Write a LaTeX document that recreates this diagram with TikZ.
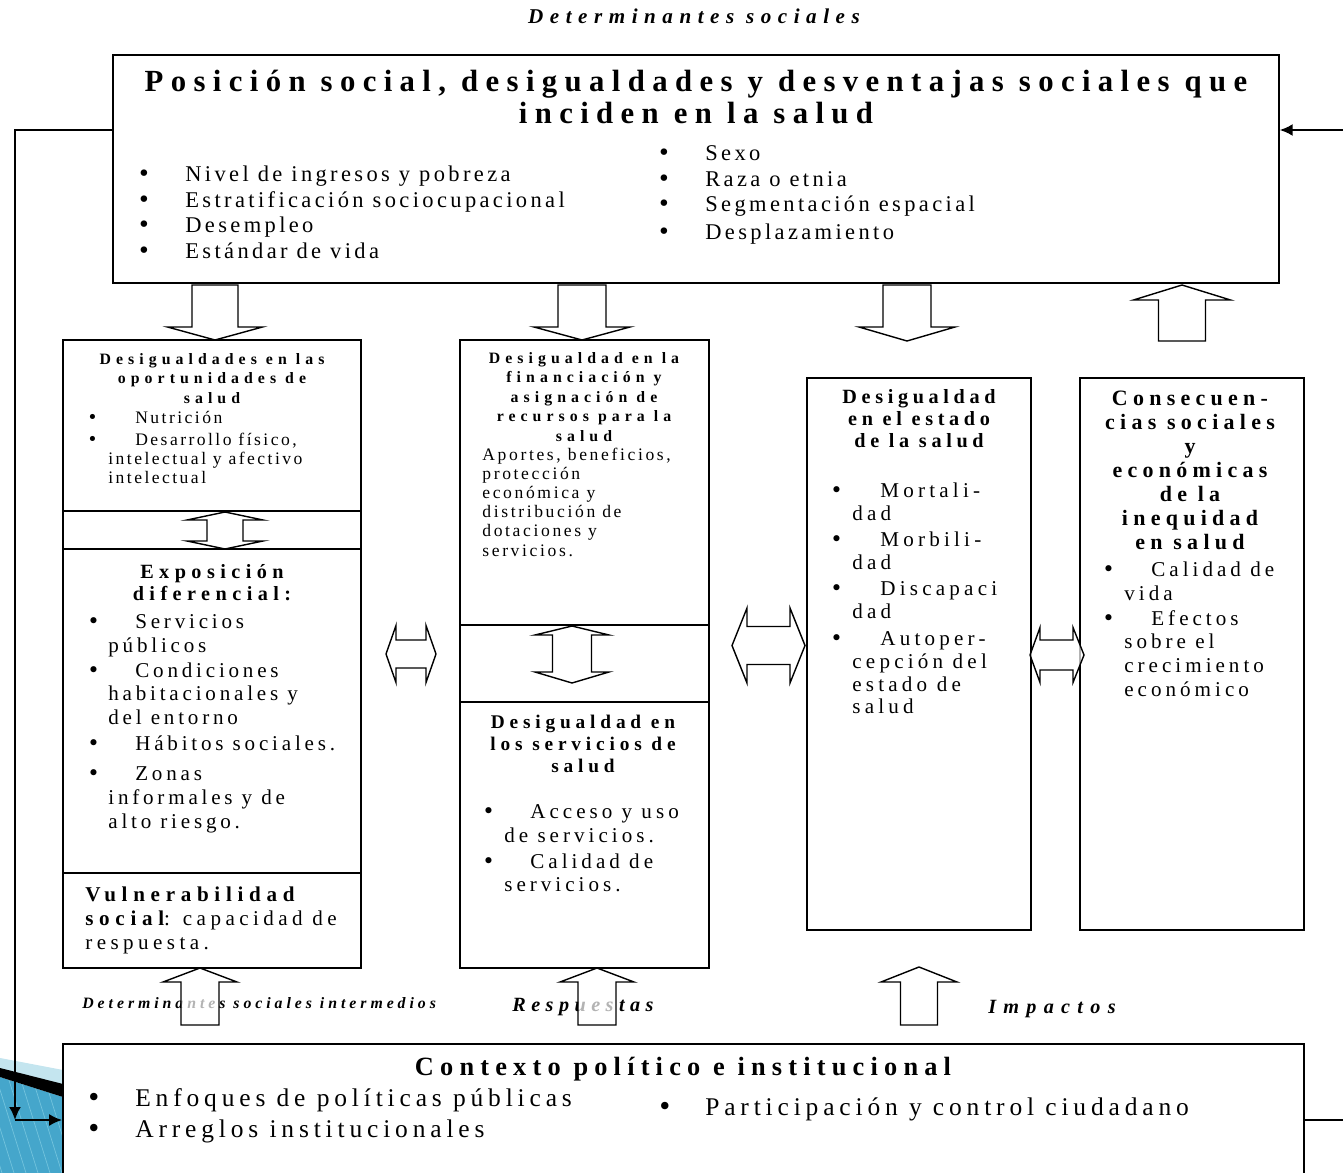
\documentclass[tikz,border=0pt]{standalone}
\usepackage{fontspec}
\setmainfont{Liberation Serif}
\newfontfamily\symf{DejaVu Sans}
\usetikzlibrary{arrows.meta}
\definecolor{corner}{HTML}{45A6CB}
\definecolor{cornerlt}{HTML}{C4E5EF}
\definecolor{stripe}{HTML}{72C3DD}
\newcommand{\fz}[2]{\fontsize{#1}{#2}\selectfont}
\newcommand{\ls}[1]{\addfontfeatures{LetterSpace=#1}}
\newcommand{\itm}[1]{\makebox[#1cm][l]{\symf •}}
\newcommand{\indt}[1]{\hspace*{#1cm}}
\newcommand{\blkv}[6]{\draw[blk] (#1-#2,#4) -- (#1+#2,#4) -- (#1+#2,#5) -- (#1+#3,#5) -- (#1,#6) -- (#1-#3,#5) -- (#1-#2,#5) -- cycle;}
\newcommand{\blkvv}[7]{\draw[blk] (#1,#4) -- (#1+#3,#5) -- (#1+#2,#5) -- (#1+#2,#6) -- (#1+#3,#6) -- (#1,#7) -- (#1-#3,#6) -- (#1-#2,#6) -- (#1-#2,#5) -- (#1-#3,#5) -- cycle;}
\newcommand{\blkhh}[7]{\draw[blk] (#4,#1) -- (#5,#1-#3) -- (#5,#1-#2) -- (#6,#1-#2) -- (#6,#1-#3) -- (#7,#1) -- (#6,#1+#3) -- (#6,#1+#2) -- (#5,#1+#2) -- (#5,#1+#3) -- cycle;}
\tikzset{
  box/.style={draw, line width=0.9pt, inner sep=0pt},
  colbox/.style={draw, line width=1.3pt, inner sep=0pt},
  blk/.style={draw, line width=0.8pt, fill=white, fill opacity=0.7},
  fb/.style={line width=1.2pt, -{Latex[length=2.6mm,width=2.4mm]}},
  fbline/.style={line width=1.2pt},
  txt/.style={inner sep=0pt, align=left, anchor=north west},
  hd/.style={inner sep=0pt, align=center, anchor=north},
  lbl/.style={inner sep=0pt, anchor=base west}
}
\begin{document}
\begin{tikzpicture}[x=0.02cm, y=-0.02cm]
  \clip (0,0) rectangle (1343,1173);
  \fill[white] (0,0) rectangle (1343,1173);
  \fill[cornerlt] (0,1058) -- (63,1070) -- (63,1085) -- (0,1070) -- cycle;
  \fill[corner] (0,1077) -- (63,1097) -- (63,1173) -- (0,1173) -- cycle;
  \begin{scope}
    \clip (0,1077) -- (63,1097) -- (63,1173) -- (0,1173) -- cycle;
    \foreach \i in {-40,-28,...,64}
      \draw[stripe, line width=0.4pt] (\i,1077) -- (\i+30,1173);
  \end{scope}
  \fill[black] (0,1068) -- (63,1084) -- (63,1097) -- (0,1077) -- cycle;

  \node[lbl, anchor=base, font=\fz{12}{14}\bfseries\itshape\ls{31}] (hdr) at (694,24) {Determinantes sociales};

  \node[box, minimum width=23.32cm, minimum height=4.56cm] (pos) at (696,169) {};
  \node[hd, font=\fz{17.5}{18.2}\bfseries\ls{24}] (ttl) at (696,68.5) {\strut Posición social, desigualdades y desventajas sociales que\\inciden en la salud};
  \node[txt, font=\fz{12.8}{14.7}\ls{15}] (posl) at (137,162.9) {\strut\itm{0.96}Nivel de ingresos y pobreza\\\itm{0.96}Estratificación sociocupacional\\\itm{0.96}Desempleo\\\itm{0.96}Estándar de vida};
  \node[txt, font=\fz{12.8}{14.7}\ls{15}] (posr) at (657,141.9) {\strut\itm{0.96}Sexo\\\itm{0.96}Raza o etnia\\\itm{0.96}Segmentación espacial\\[0.04cm]\itm{0.96}Desplazamiento};

  \node[colbox, minimum width=5.96cm, minimum height=12.56cm] (c1) at (212,654) {};
  \draw[colbox] (63,511) -- (361,511);
  \draw[colbox] (63,549) -- (361,549);
  \draw[colbox] (63,873) -- (361,873);
  \node[hd, font=\fz{9}{11.05}\bfseries\ls{32}] (c1h) at (212,350.4) {\strut Desigualdades en las\\oportunidades de\\salud};
  \node[txt, font=\fz{10}{10.8}\ls{14}] (c1l) at (87,409.7) {\strut\itm{0.96}Nutrición\\[0.06cm]\itm{0.96}Desarrollo físico,\\\indt{0.42}intelectual y afectivo\\\indt{0.42}intelectual};
  \node[hd, font=\fz{11.5}{12.5}\bfseries\ls{27}] (c1eh) at (212,562.6) {\strut Exposición\\diferencial:};
  \node[txt, font=\fz{12}{13.6}\ls{18}] (c1el) at (87,611.2) {\strut\itm{0.96}Servicios\\\indt{0.42}públicos\\[0.02cm]\itm{0.96}Condiciones\\\indt{0.42}habitacionales y\\\indt{0.42}del entorno\\[0.04cm]\itm{0.96}Hábitos sociales.\\[0.12cm]\itm{0.96}Zonas\\\indt{0.42}informales y de\\\indt{0.42}alto riesgo.};
  \node[txt, font=\fz{12}{13.6}\ls{21}] (c1v) at (85,884.2) {\strut{\bfseries\ls{27}Vulnerabilidad}\\{\bfseries\ls{27}social}: capacidad de\\respuesta.};

  \node[colbox, minimum width=4.98cm, minimum height=12.56cm] (c2) at (584.5,654) {};
  \draw[colbox] (460,625) -- (709,625);
  \draw[colbox] (460,702) -- (709,702);
  \node[hd, font=\fz{9}{11.05}\bfseries\ls{32}] (c2h) at (584,349.4) {\strut Desigualdad en la\\financiación y\\asignación de\\recursos para la\\salud};
  \node[txt, font=\fz{10}{10.9}\ls{15}] (c2p) at (482,446.6) {\strut Aportes, beneficios,\\protección\\económica y\\distribución de\\dotaciones y\\servicios.};
  \node[hd, font=\fz{11}{12.5}\bfseries\ls{25}] (c2sh) at (583,712.6) {\strut Desigualdad en\\los servicios de\\salud};
  \node[txt, font=\fz{12}{13.6}\ls{19}] (c2sl) at (482,801.2) {\strut\itm{0.96}Acceso y uso\\\indt{0.44}de servicios.\\[0.04cm]\itm{0.96}Calidad de\\\indt{0.44}servicios.};

  \node[box, minimum width=4.48cm, minimum height=11.04cm] (c3) at (919,654) {};
  \node[hd, font=\fz{11.5}{12.5}\bfseries\ls{23}] (c3h) at (919,387.6) {\strut Desigualdad\\en el estado\\de la salud};
  \node[txt, font=\fz{12}{13.04}\ls{20}] (c3l) at (830,480.9) {\strut\itm{1.0}Mortali-\\\indt{0.44}dad\\[0.07cm]\itm{1.0}Morbili-\\\indt{0.44}dad\\[0.07cm]\itm{1.0}Discapaci\\\indt{0.44}dad\\[0.07cm]\itm{1.0}Autoper-\\\indt{0.44}cepción del\\\indt{0.44}estado de\\\indt{0.44}salud};

  \node[box, minimum width=4.48cm, minimum height=11.04cm] (c4) at (1192,654) {};
  \node[hd, font=\fz{12.5}{13.72}\bfseries\ls{24}] (c4h) at (1190,388.1) {\strut Consecuen-\\cias sociales\\y\\económicas\\de la\\inequidad\\en salud};
  \node[txt, font=\fz{12}{13.6}\ls{19}] (c4l) at (1102,559.2) {\strut\itm{0.98}Calidad de\\\indt{0.44}vida\\[0.02cm]\itm{0.98}Efectos\\\indt{0.44}sobre el\\\indt{0.44}crecimiento\\\indt{0.44}económico};

  \node[box, line width=1.1pt, minimum width=24.82cm, minimum height=2.92cm] (ctx) at (683.5,1117) {};
  \node[lbl, anchor=base, font=\fz{15}{17}\bfseries\ls{23.5}] (ctxh) at (683,1075) {Contexto político e institucional};
  \node[txt, font=\fz{14.5}{17.6}\ls{19}] (ctxl) at (86,1084.3) {\strut\itm{0.98}Enfoques de políticas públicas\\\itm{0.98}Arreglos institucionales};
  \node[lbl, font=\fz{14.5}{17.6}\ls{19}] (ctxr) at (657,1115) {\itm{0.96}Participación y control ciudadano};

  \node[lbl, font=\fz{9}{10}\bfseries\itshape\ls{25}] (lint) at (82,1008) {Determinantes sociales intermedios};
  \node[lbl, font=\fz{11.5}{13}\bfseries\itshape\ls{27}] (lres) at (512,1011) {Respuestas};
  \node[lbl, font=\fz{11.5}{13}\bfseries\itshape\ls{36}] (limp) at (988,1013) {Impactos};

  \blkv{215}{23}{47.5}{285}{327}{340}
  \blkv{582}{24}{48}{285}{327}{340}
  \blkv{907}{24}{48}{285}{327}{341}
  \blkv{1182}{23.5}{48.5}{341}{300}{285}
  \blkvv{225}{18}{38}{512}{520}{541}{549}
  \blkvv{572}{19.5}{37}{626}{635}{672}{683}
  \blkhh{654}{14}{28.5}{386}{396}{426}{436}
  \blkhh{645.5}{19}{37.5}{732}{747}{790}{805}
  \blkhh{655}{15}{27.5}{1030}{1040}{1073}{1084}
  \blkv{200}{19}{37}{1025}{982}{968}
  \blkv{597}{19}{37}{1025}{982}{968}
  \blkv{919}{18.5}{38}{1025}{982}{967}

  \coordinate (lt) at (15,130);
  \coordinate (lb) at (15,1120);
  \coordinate (rt) at (1343,130);
  \coordinate (rb) at (1343,1120);
  \draw[fb] (pos.west |- lt) -- (lt) -- (lb);
  \draw[fb] (lb) -- (ctx.west |- lb);
  \draw[fb] (rt) -- (pos.east |- rt);
  \draw[fbline] (ctx.east |- rb) -- (rb);
\end{tikzpicture}
\end{document}
